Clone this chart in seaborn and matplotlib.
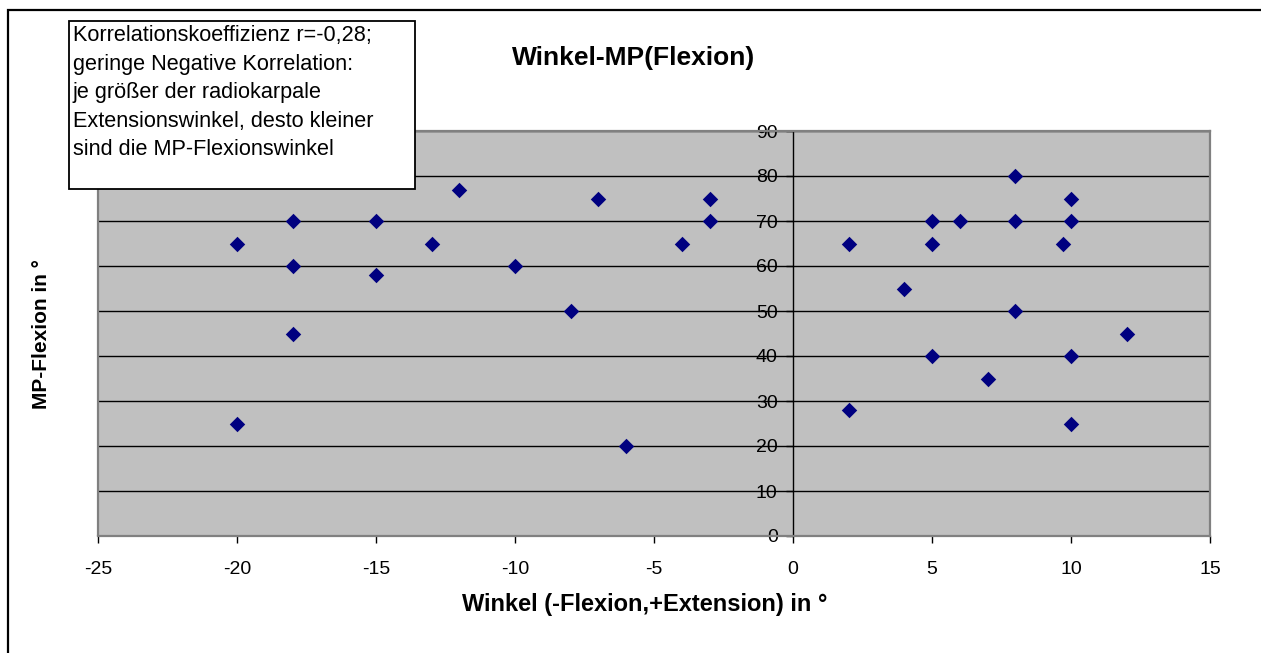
import matplotlib
matplotlib.use('Agg')
import matplotlib.pyplot as plt
import seaborn as sns
import pandas as pd
from matplotlib.patches import Rectangle

# ---- data ----
winkel = [-20, -20, -18, -18, -18, -15, -15, -13, -12, -10, -8, -7, -6, -4, -3, -3,
          2, 2, 4, 5, 5, 5, 6, 7, 8, 8, 8, 9.7, 10, 10, 10, 10, 12]
mp_flexion = [65, 25, 70, 60, 45, 70, 58, 65, 77, 60, 50, 75, 20, 65, 75, 70,
              65, 28, 55, 70, 65, 40, 70, 35, 80, 70, 50, 65, 75, 70, 40, 25, 45]
x_ticks = [-25, -20, -15, -10, -5, 0, 5, 10, 15]
y_ticks = [0, 10, 20, 30, 40, 50, 60, 70, 80, 90]
title = "Winkel-MP(Flexion)"
x_label = "Winkel (-Flexion,+Extension) in °"
y_label = "MP-Flexion in °"
note_lines = ["Korrelationskoeffizienz r=-0,28;",
              "geringe Negative Korrelation:",
              "je größer der radiokarpale",
              "Extensionswinkel, desto kleiner",
              "sind die MP-Flexionswinkel"]

sns.set_theme(style='white')
plt.rcParams['font.family'] = ['Liberation Sans', 'DejaVu Sans']
plt.rcParams['text.color'] = 'black'
plt.rcParams['xtick.color'] = 'black'
plt.rcParams['ytick.color'] = 'black'

W, H = 1261, 653
fig = plt.figure(figsize=(W / 100, H / 100), dpi=100)
fig.patch.set_facecolor('white')

def fx(px):
    return px / W

def fy(py):
    return 1 - py / H

ax = fig.add_axes([fx(98), fy(536), fx(1210) - fx(98), fy(131) - fy(536)])
df = pd.DataFrame({'winkel': winkel, 'mp': mp_flexion})
sns.scatterplot(data=df, x='winkel', y='mp', marker='D', color='#000080',
                s=62, linewidth=0, ax=ax, zorder=4, legend=False)

ax.set_xlim(-25, 15)
ax.set_ylim(0, 90)
ax.set_facecolor('#C0C0C0')
ax.set_xticks(x_ticks)
ax.set_yticks(y_ticks)
ax.set_xticklabels([str(t) for t in x_ticks])
ax.set_yticklabels([str(t) for t in y_ticks])
ax.set_xlabel('')
ax.set_ylabel('')
ax.yaxis.grid(True, color='black', linewidth=1)
ax.xaxis.grid(False)
ax.set_axisbelow(True)

for side in ['top', 'right', 'bottom']:
    ax.spines[side].set_color('#808080')
    ax.spines[side].set_linewidth(1.6)
ax.spines['left'].set_position(('data', 0))
ax.spines['left'].set_color('black')
ax.spines['left'].set_linewidth(1)
ax.plot([-25, -25], [0, 90], color='#808080', lw=1.6, clip_on=False, zorder=5)

ax.tick_params(axis='x', direction='out', length=5, width=1, color='black',
               pad=13, labelsize=14, bottom=True, labelcolor='black')
ax.tick_params(axis='y', direction='out', length=5, width=1, color='black',
               pad=6, labelsize=14, left=True, labelcolor='black')

fig.text(fx(634), fy(58), title, ha='center', va='center', fontsize=19,
         fontweight='bold', color='black')
fig.text(fx(645), fy(605), x_label, ha='center', va='center', fontsize=17,
         fontweight='bold', color='black')
fig.text(fx(42), fy(334), y_label, ha='center', va='center', rotation=90,
         fontsize=15, fontweight='bold', color='black')

# note box
fig.add_artist(Rectangle((fx(69), fy(189)), fx(415) - fx(69), fy(21) - fy(189),
                         transform=fig.transFigure, facecolor='white',
                         edgecolor='black', lw=1.3, zorder=10))
fig.text(fx(73), fy(25), "\n".join(note_lines), ha='left', va='top', fontsize=15.6,
         linespacing=1.47, zorder=11, color='black')

# outer border
fig.add_artist(Rectangle((fx(8), -0.2), 1.5, fy(10) + 0.2, transform=fig.transFigure,
                         fill=False, edgecolor='black', lw=1.6, clip_on=False, zorder=12))

fig.savefig('out.png', dpi=100)
